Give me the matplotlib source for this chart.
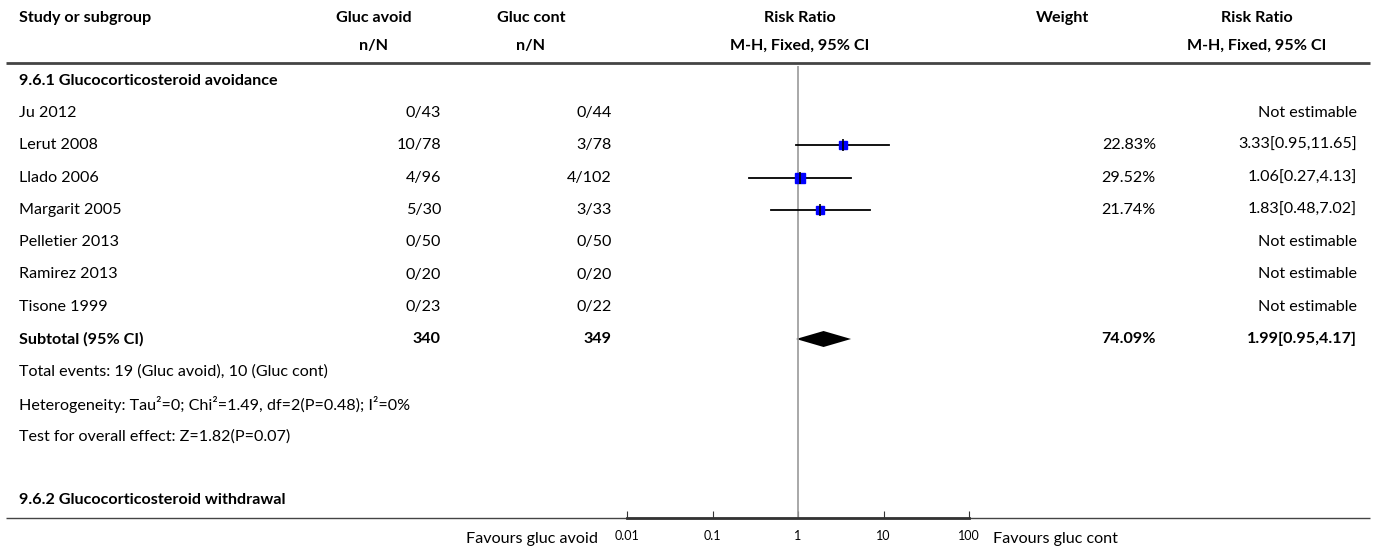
import numpy as np
import matplotlib
matplotlib.use("Agg")
import matplotlib.pyplot as plt

plt.rcParams['font.family'] = ['Lato', 'DejaVu Sans']

# data
studies = ["Ju 2012", "Lerut 2008", "Llado 2006", "Margarit 2005",
           "Pelletier 2013", "Ramirez 2013", "Tisone 1999"]
avoid_nN = ["0/43", "10/78", "4/96", "5/30", "0/50", "0/20", "0/23"]
cont_nN = ["0/44", "3/78", "4/102", "3/33", "0/50", "0/20", "0/22"]
rr = [None, 3.33, 1.06, 1.83, None, None, None]
lo = [None, 0.95, 0.27, 0.48, None, None, None]
hi = [None, 11.65, 4.13, 7.02, None, None, None]
weight = [None, 22.83, 29.52, 21.74, None, None, None]

sub_avoid, sub_cont = 340, 349
sub_weight = 74.09
sub_rr, sub_lo, sub_hi = 1.99, 0.95, 4.17

notes = ["Total events: 19 (Gluc avoid), 10 (Gluc cont)",
         "Heterogeneity: Tau\u00b2=0; Chi\u00b2=1.49, df=2(P=0.48); I\u00b2=0%",
         "Test for overall effect: Z=1.82(P=0.07)"]
group1 = "9.6.1 Glucocorticosteroid avoidance"
group2 = "9.6.2 Glucocorticosteroid withdrawal"
ticks = [0.01, 0.1, 1, 10, 100]
tick_labels = ["0.01", "0.1", "1", "10", "100"]

W, H = 1375, 549
fig = plt.figure(figsize=(W / 100, H / 100), dpi=100)
ax = fig.add_axes([0, 0, 1, 1])
ax.set_xlim(0, W)
ax.set_ylim(H, 0)
ax.axis('off')

fs = 11.6
x_study, x_avoid, x_cont, x_wt, x_rr = 19, 441, 612, 1156, 1357

# header
ax.text(x_study, 18, "Study or subgroup", fontsize=fs, fontweight='bold', va='center')
ax.text(374, 18, "Gluc avoid", fontsize=fs, fontweight='bold', va='center', ha='center')
ax.text(374, 46, "n/N", fontsize=fs, fontweight='bold', va='center', ha='center')
ax.text(531, 18, "Gluc cont", fontsize=fs, fontweight='bold', va='center', ha='center')
ax.text(531, 46, "n/N", fontsize=fs, fontweight='bold', va='center', ha='center')
ax.text(800, 18, "Risk Ratio", fontsize=fs, fontweight='bold', va='center', ha='center')
ax.text(800, 46, "M-H, Fixed, 95% CI", fontsize=fs, fontweight='bold', va='center', ha='center')
ax.text(1062, 18, "Weight", fontsize=fs, fontweight='bold', va='center', ha='center')
ax.text(1257, 18, "Risk Ratio", fontsize=fs, fontweight='bold', va='center', ha='center')
ax.text(1257, 46, "M-H, Fixed, 95% CI", fontsize=fs, fontweight='bold', va='center', ha='center')
ax.plot([6, 1370], [63, 63], color='#444444', lw=2, solid_capstyle='butt')
ax.plot([6, 1370], [518, 518], color='#444444', lw=1, solid_capstyle='butt')

ax.text(x_study, 81, group1, fontsize=fs, fontweight='bold', va='center')

row_y = [113 + 32.3 * i for i in range(len(studies))]
for i, s in enumerate(studies):
    y = row_y[i]
    ax.text(x_study, y, s, fontsize=fs, va='center')
    ax.text(x_avoid, y, avoid_nN[i], fontsize=fs, va='center', ha='right')
    ax.text(x_cont, y, cont_nN[i], fontsize=fs, va='center', ha='right')
    if rr[i] is None:
        ax.text(x_rr, y, "Not estimable", fontsize=fs, va='center', ha='right')
    else:
        ax.text(x_wt, y, f"{weight[i]:.2f}%", fontsize=fs, va='center', ha='right')
        ax.text(x_rr, y, f"{rr[i]:.2f}[{lo[i]:.2f},{hi[i]:.2f}]",
                fontsize=fs, va='center', ha='right')

y_sub = 339
ax.text(x_study, y_sub, "Subtotal (95% CI)", fontsize=fs, fontweight='bold', va='center')
ax.text(x_avoid, y_sub, str(sub_avoid), fontsize=fs, fontweight='bold', va='center', ha='right')
ax.text(x_cont, y_sub, str(sub_cont), fontsize=fs, fontweight='bold', va='center', ha='right')
ax.text(x_wt, y_sub, f"{sub_weight:.2f}%", fontsize=fs, fontweight='bold', va='center', ha='right')
ax.text(x_rr, y_sub, f"{sub_rr:.2f}[{sub_lo:.2f},{sub_hi:.2f}]",
        fontsize=fs, fontweight='bold', va='center', ha='right')

for j, n in enumerate(notes):
    ax.text(x_study, 372 + 32.3 * j, n, fontsize=fs, va='center')

ax.text(x_study, 500, group2, fontsize=fs, fontweight='bold', va='center')
ax.text(598, 539, "Favours gluc avoid", fontsize=fs, va='center', ha='right')
ax.text(993, 539, "Favours gluc cont", fontsize=fs, va='center', ha='left')

# forest plot axes
x0, x1, ytop, ybot = 627, 969, 66, 518
fax = fig.add_axes([x0 / W, (H - ybot) / H, (x1 - x0) / W, (ybot - ytop) / H])
fax.set_xscale('log')
fax.set_xlim(0.01, 100)
fax.set_ylim(ybot, ytop)
fax.patch.set_alpha(0)
for sp in ['top', 'left', 'right']:
    fax.spines[sp].set_visible(False)
fax.spines['bottom'].set_linewidth(2)
fax.spines['bottom'].set_color('#333333')
fax.set_yticks([])
fax.set_xticks(ticks)
fax.set_xticklabels(tick_labels)
fax.minorticks_off()
fax.tick_params(axis='x', direction='in', length=5, width=0.8, colors='#333333',
                labelsize=9, pad=9)
for lab in fax.get_xticklabels():
    lab.set_color('black')

fax.axvline(1, color='#999999', lw=1.2)
for i in range(len(studies)):
    if rr[i] is None:
        continue
    y = row_y[i]
    fax.plot([lo[i], hi[i]], [y, y], color='black', lw=1.3)
    fax.plot(rr[i], y, marker='s', color='#0000ff', markersize=weight[i] * 0.24, mec='#0000ff')
    fax.plot(rr[i], y, marker='|', color='black', markersize=8, mew=1.2)

fax.fill([sub_lo, sub_rr, sub_hi, sub_rr], [y_sub, y_sub - 8, y_sub, y_sub + 8],
         color='black', lw=0)

fig.savefig("out.png", dpi=100)
